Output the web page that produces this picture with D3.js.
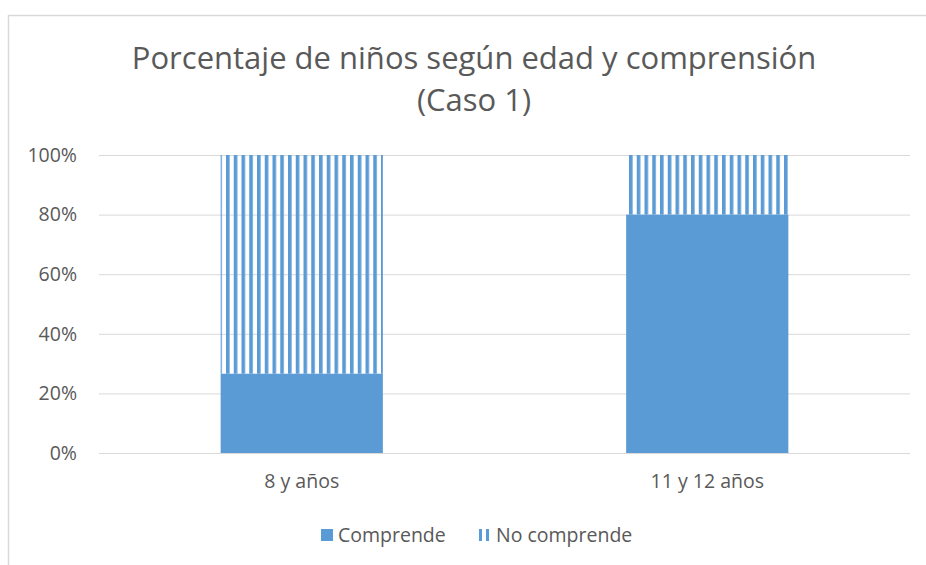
<!DOCTYPE html>
<html>
<head>
<meta charset="utf-8">
<script src="https://cdnjs.cloudflare.com/ajax/libs/d3/7.8.5/d3.min.js"></script>
<style>
  body { margin: 0; background: #fff; }
  svg text { font-family: "Open Sans", "DejaVu Sans", sans-serif; fill: #595959; }
</style>
</head>
<body>
<div id="chart"></div>
<script>
// data
var categories = ["8 y años", "11 y 12 años"];
var comprende = [26.6, 80];
var noComprende = [73.4, 20];
var yTicks = [0, 20, 40, 60, 80, 100];
var seriesNames = ["Comprende", "No comprende"];
var titleLines = ["Porcentaje de niños según edad y comprensión", "(Caso 1)"];

var W = 926, H = 565;
var margin = {top: 155, right: 16, bottom: 112, left: 99},
    width = W - margin.left - margin.right,
    height = H - margin.top - margin.bottom;

var blue = "#5b9bd5";

var svg = d3.select("#chart").append("svg")
    .attr("width", W)
    .attr("height", H);

// stripe pattern for "No comprende"
var defs = svg.append("defs");
var pat = defs.append("pattern")
    .attr("id", "stripes")
    .attr("patternUnits", "userSpaceOnUse")
    .attr("x", 220)
    .attr("width", 7.75)
    .attr("height", 8);
pat.append("rect")
    .attr("x", 0).attr("y", 0)
    .attr("width", 3.6).attr("height", 8)
    .attr("fill", blue);

// chart border
svg.append("path")
    .attr("d", "M8.5," + H + "V15.5H" + W)
    .attr("fill", "none")
    .attr("stroke", "#d9d9d9")
    .attr("stroke-width", 1.5);

// title
svg.append("g").selectAll("text")
    .data(titleLines)
    .enter().append("text")
    .attr("x", 474)
    .attr("y", function(d, i) { return 69 + i * 42; })
    .attr("text-anchor", "middle")
    .style("font-size", "31px")
    .style("font-weight", 400)
    .text(function(d) { return d; });

var g = svg.append("g")
    .attr("transform", "translate(" + margin.left + "," + margin.top + ")");

var x = d3.scaleBand()
    .domain(categories)
    .range([0, width])
    .paddingInner(0.6)
    .paddingOuter(0.3);

var y = d3.scaleLinear()
    .domain([0, 100])
    .range([height, 0]);

// gridlines
g.append("g")
    .attr("class", "grid")
    .call(d3.axisLeft(y)
        .tickValues(yTicks)
        .tickSize(-width)
        .tickFormat(""))
    .call(function(s) {
        s.select(".domain").remove();
        s.selectAll("line").attr("stroke", "#d9d9d9");
    });

// y axis labels
g.append("g")
    .call(d3.axisLeft(y)
        .tickValues(yTicks)
        .tickSize(0)
        .tickPadding(22)
        .tickFormat(function(d) { return d + "%"; }))
    .call(function(s) {
        s.select(".domain").remove();
        s.selectAll("text").style("font-size", "19.5px").attr("fill", "#595959");
    });

// x axis labels
g.append("g")
    .attr("transform", "translate(0," + height + ")")
    .call(d3.axisBottom(x).tickSize(0).tickPadding(21))
    .call(function(s) {
        s.select(".domain").remove();
        s.selectAll("text").style("font-size", "19.5px").attr("fill", "#595959");
    });

// bars
g.selectAll(".bar-comp")
    .data(categories)
    .enter().append("rect")
    .attr("class", "bar-comp")
    .attr("x", function(d) { return x(d); })
    .attr("y", function(d, i) { return y(comprende[i]); })
    .attr("width", x.bandwidth())
    .attr("height", function(d, i) { return y(0) - y(comprende[i]); })
    .attr("fill", blue);

g.selectAll(".bar-no")
    .data(categories)
    .enter().append("rect")
    .attr("class", "bar-no")
    .attr("x", function(d) { return x(d); })
    .attr("y", function(d, i) { return y(comprende[i] + noComprende[i]); })
    .attr("width", x.bandwidth())
    .attr("height", function(d, i) { return y(comprende[i]) - y(comprende[i] + noComprende[i]); })
    .attr("fill", "url(#stripes)");

// legend
var legend = svg.append("g").attr("transform", "translate(0,535)");
var items = [{name: seriesNames[0], x: 321}, {name: seriesNames[1], x: 479}];
items.forEach(function(it, i) {
    if (i === 0) {
        legend.append("rect")
            .attr("x", it.x).attr("y", -6)
            .attr("width", 12).attr("height", 12)
            .attr("fill", blue);
    } else {
        legend.append("rect").attr("x", it.x).attr("y", -6).attr("width", 3).attr("height", 12).attr("fill", blue);
        legend.append("rect").attr("x", it.x + 7).attr("y", -6).attr("width", 3).attr("height", 12).attr("fill", blue);
    }
    legend.append("text")
        .attr("x", it.x + 17)
        .attr("y", 7)
        .style("font-size", "19.5px")
        .text(it.name);
});
</script>
</body>
</html>
